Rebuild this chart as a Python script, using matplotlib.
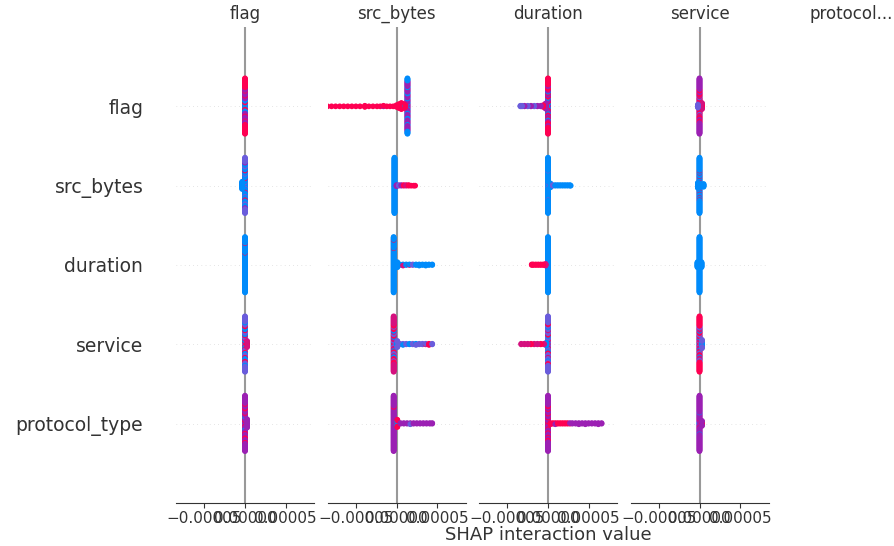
import numpy as np
import matplotlib.pyplot as plt
from matplotlib.colors import LinearSegmentedColormap

features = ["flag", "src_bytes", "duration", "service", "protocol_type"]
titles = ["flag", "src_bytes", "duration", "service", "protocol..."]

# SHAP interaction values, in units of 1e-5.
# each group is (value, "count+colour ..."), colour = feature value: b low .. v, p, m .. r high
flag_col = [
    [(0.0, "4r 8b 6r 8b 10p 4r 12p 6m 8p 34r")],
    [(0.0, "10b 4v 10b 4m 12b 4v 8b 4r 10b 6v 8b 4p 16v"), (-0.35, "14b")],
    [(0.0, "43b 1r 33b 1r 22b")],
    [(0.0, "8v 4r 6b 4m 8v 4r 6b 8v 4r 10b 6r 8v 4b 20v"), (0.25, "6r 6m")],
    [(0.0, "4b 6p 4r 10p 4b 8p 4r 12p 6r 10p 4r 8p 20p"), (0.25, "16p")],
]

src_bytes_col = [
    [(1.35, "10p 4b 12p 4b 14p 6b 16p 4b 20p 10b"),
     (-10.0, "1r"), (-9.5, "1r"), (-9.0, "1r"), (-8.5, "1r"), (-8.0, "1r"), (-7.5, "1r"),
     (-7.0, "1r"), (-6.5, "1r"), (-6.0, "1r"), (-5.5, "1r"), (-5.0, "1r"), (-4.5, "1r"),
     (-3.9, "3r"), (-3.4, "1r"), (-2.9, "1r"), (-2.4, "1r"), (-2.0, "1r"), (-1.6, "1p 1r"),
     (-1.2, "1r"), (-0.8, "1r"), (-0.4, "1r"), (0.0, "4r"), (0.3, "8r"), (0.6, "12r"),
     (0.9, "8r"), (1.1, "2b 2r")],
    [(-0.25, "100b"), (0.0, "3p"), (0.3, "2v"), (0.6, "2p"), (0.9, "2r"), (1.2, "2m"),
     (1.5, "2r"), (1.8, "1r"), (2.1, "1r"), (2.3, "1r")],
    [(-0.35, "59b 1r 29b 1r 10b"), (0.1, "10b"), (0.4, "2b"), (0.8, "2b 1m"), (1.2, "2b"),
     (1.6, "1r 1b"), (2.0, "2v"), (2.4, "2b"), (2.8, "3b"), (3.2, "2b"), (3.6, "3b"),
     (4.0, "2b"), (4.4, "2b")],
    [(-0.35, "6b 4r 6v 8m 4b 6r 8v 4m 6b 8r 4v 8r 28m"), (0.1, "8b 4v"), (0.4, "2v"),
     (0.8, "2v 1b"), (1.2, "2v"), (1.6, "2b"), (2.0, "2v"), (2.4, "2b 1v"), (2.8, "2v"),
     (3.2, "2v"), (3.6, "1r 1v"), (4.0, "3r"), (4.4, "2v")],
    [(-0.35, "2b 57p 1r 1p 1r 38p"), (0.1, "4r 6b 4r"), (0.5, "2p"), (0.9, "2p"),
     (1.3, "2p"), (1.7, "2p 1v"), (2.1, "2p"), (2.5, "2p"), (2.9, "2p"), (3.3, "2p"),
     (3.7, "2p"), (4.1, "2p"), (4.4, "2p")],
]

duration_col = [
    [(0.0, "4r 4p 6b 6r 8p 4b 6r 8p 4r 4b 6p 10r 6p 24r"), (-0.3, "6r 4p"), (-0.6, "4r"),
     (-0.9, "2p"), (-1.3, "2p"), (-1.7, "2v"), (-2.1, "2p"), (-2.5, "2v"), (-2.9, "2p"),
     (-3.2, "2v"), (-3.4, "2v")],
    [(0.0, "10b 2v 40b 2v 46b"), (0.3, "4v 4b"), (0.6, "2v"), (0.9, "2b"), (1.2, "2b"),
     (1.5, "2b"), (1.8, "2b"), (2.1, "2b"), (2.4, "2b"), (2.7, "2b"), (2.8, "1b")],
    [(0.0, "100b"), (-0.3, "2r 2m"), (-0.6, "2r"), (-0.9, "2r"), (-1.2, "2r"), (-1.5, "2r"),
     (-1.8, "2r"), (-2.0, "2r")],
    [(0.0, "6m 8v 4r 10v 4b 6r 10v 4m 8v 4b 6v 6r 24v"), (-0.2, "4r 2b"), (-0.5, "2m"),
     (-0.9, "2r"), (-1.3, "2m"), (-1.7, "2m"), (-2.1, "2r"), (-2.5, "2m"), (-2.9, "2m"),
     (-3.3, "2m")],
    [(0.0, "6p 4r 10p 4r 10p 4r 12p 4r 6p 6r 34p"), (0.3, "3r"), (0.6, "2r"), (0.9, "2r 1p"),
     (1.2, "2r"), (1.5, "2r"), (1.8, "2r"), (2.1, "2r"), (2.4, "2r"), (2.7, "1r 1p"),
     (3.0, "2p"), (3.4, "2p"), (3.8, "3p"), (4.2, "2p"), (4.6, "3p"), (5.0, "2p"),
     (5.4, "2p"), (5.8, "2p"), (6.2, "3p"), (6.6, "2p")],
]

service_col = [
    [(0.0, "6r 4v 8r 6p 6r 4v 8m 6r 6p 6r 40p"), (0.3, "8r 4m"), (-0.2, "6v")],
    [(0.0, "6b 2r 6b 2r 8b 2r 6b 2r 10b 2r 6b 2r 46b"), (0.5, "6b"), (-0.2, "10b")],
    [(0.0, "100b"), (0.25, "10b"), (-0.25, "10b")],
    [(0.0, "4b 6r 4v 8m 4b 6r 6v 8r 4b 8m 6v 36r"), (0.3, "10b 6v")],
    [(0.0, "4b 12p 2r 20p 2b 60p"), (0.3, "6r 4p")],
]

columns = [flag_col, src_bytes_col, duration_col, service_col]
x_ticks = [-5e-5, 0, 5e-5]

codes = {"b": 0.0, "v": 0.25, "p": 0.5, "m": 0.75, "r": 1.0}
red_blue = LinearSegmentedColormap.from_list(
    "red_blue", [(0.0, "#008bfb"), (0.25, "#6a5cdc"), (0.5, "#9b20b3"),
                 (0.75, "#d5107f"), (1.0, "#ff0052")])


def expand(groups):
    xs, cs = [], []
    for value, runs in groups:
        for tok in runs.split():
            n = int(tok[:-1])
            xs += [value] * n
            cs += [codes[tok[-1]]] * n
    return np.array(xs), np.array(cs)


def swarm(x, row_height=0.4):
    # same binning as the shap beeswarm, without the random tie break
    quant = np.round(100 * (x - x.min()) / (x.max() - x.min() + 1e-8))
    ys = np.zeros(len(x))
    layer, last = 0, -1
    for i in np.argsort(quant, kind="stable"):
        if quant[i] != last:
            layer = 0
        ys[i] = np.ceil(layer / 2) * ((layer % 2) * 2 - 1)
        layer += 1
        last = quant[i]
    return ys * 0.9 * (row_height / np.max(ys + 1))


fig = plt.figure(figsize=(8.94, 5.46), dpi=100)
W, H = 894, 546
lefts = [176, 327.5, 479, 630.5, 782]
axis_color = "#333333"
n = len(features)
lim = 8.5e-5

for k, left in enumerate(lefts):
    ax = fig.add_axes([left / W, 1 - 503 / H, 138 / W, 476 / H])
    ax.set_title(titles[k], fontsize=12, color=axis_color)
    if k >= len(columns):
        ax.axis("off")
        continue
    ax.axvline(0, color="#999999", zorder=-1)
    for r, groups in enumerate(columns[k]):
        pos = n - 1 - r
        ax.axhline(pos, color="#cccccc", lw=0.5, dashes=(1, 5), zorder=-1)
        xs, cs = expand(groups)
        ys = swarm(xs)
        ax.scatter(xs * 1e-5, pos + ys, c=cs, cmap=red_blue, vmin=0, vmax=1,
                   s=17, linewidth=0, alpha=1, rasterized=True)
    ax.set_xlim(-lim, lim)
    ax.set_ylim(-1, n)
    ax.set_xticks(x_ticks)
    ax.set_xticklabels([f"{t:.5f}".replace("-", "\u2212") for t in x_ticks])
    ax.xaxis.set_ticks_position("bottom")
    ax.yaxis.set_ticks_position("none")
    ax.tick_params(color=axis_color, labelcolor=axis_color)
    ax.tick_params("x", labelsize=11, pad=2)
    ax.tick_params("y", length=20, width=0.5, which="major")
    if k == 0:
        ax.set_yticks(range(n))
        ax.set_yticklabels(features[::-1], fontsize=13.5)
    else:
        ax.set_yticks([])
    for side in ["top", "right", "left"]:
        ax.spines[side].set_visible(False)
    ax.spines["bottom"].set_color(axis_color)
    if k == 2:
        ax.set_xlabel("SHAP interaction value", fontsize=13, color=axis_color,
                      labelpad=0)

fig.savefig("out.png", dpi=100)
